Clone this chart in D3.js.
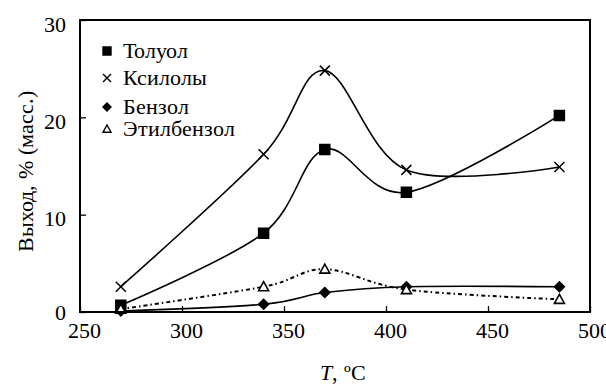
<!DOCTYPE html>
<html>
<head>
<meta charset="utf-8">
<script src="https://cdn.jsdelivr.net/npm/d3@7"></script>
<style>
  @font-face {
    font-family: "ChartSerif";
    src: local("Liberation Serif"), local("LiberationSerif"), local("LiberationSerif-Regular");
    font-style: normal;
    font-display: swap;
  }
  @font-face {
    font-family: "ChartSerif";
    src: local("Liberation Serif Italic"), local("LiberationSerif-Italic");
    font-style: italic;
    font-display: swap;
  }
  body { margin: 0; background: #fff; }
</style>
</head>
<body>
<div class="chart"></div>
<script>
// temperatures and yields (% mass)
var temps = [270, 340, 370, 410, 485];
var toluene = [0.7, 8.1, 16.7, 12.3, 20.2];
var xylenes = [2.6, 16.2, 24.8, 14.6, 14.9];
var benzene = [0.1, 0.8, 2.0, 2.6, 2.6];
var ethylbenzene = [0.3, 2.6, 4.4, 2.3, 1.3];
var seriesNames = ["Толуол", "Ксилолы", "Бензол", "Этилбензол"];
var xTicks = [250, 300, 350, 400, 450, 500];
var yTicks = [0, 10, 20, 30];

var font = "ChartSerif, 'Liberation Serif', 'Times New Roman', serif";
var svgWidth = 606, svgHeight = 385;
var margin = { top: 20, right: 16, bottom: 73, left: 80 };
var width = svgWidth - margin.left - margin.right;
var height = svgHeight - margin.top - margin.bottom;

var svg = d3.select(".chart").append("svg")
    .attr("width", svgWidth)
    .attr("height", svgHeight)
    .style("font-family", font);
var chart = svg.append("g")
    .attr("transform", "translate(" + margin.left + "," + margin.top + ")");

var x = d3.scaleLinear().domain([250, 500]).range([0, width]);
var y = d3.scaleLinear().domain([0, 30]).range([height, 0]);

// marker shapes
function marker(kind, s) {
    var h = s / 2;
    if (kind == "square") return "M" + (-h) + "," + (-h) + "h" + s + "v" + s + "h" + (-s) + "Z";
    if (kind == "x") return "M" + (-h) + "," + (-h) + "L" + h + "," + h + "M" + (-h) + "," + h + "L" + h + "," + (-h);
    if (kind == "diamond") return "M0," + (-h) + "L" + h + ",0L0," + h + "L" + (-h) + ",0Z";
    return "M0," + (-h) + "L" + h + "," + (h * 0.8) + "L" + (-h) + "," + (h * 0.8) + "Z";
}

var series = [
    { name: seriesNames[0], values: toluene, kind: "square", dash: null, size: 10, fill: "#000" },
    { name: seriesNames[1], values: xylenes, kind: "x", dash: null, size: 10, fill: "none" },
    { name: seriesNames[2], values: benzene, kind: "diamond", dash: null, size: 10, fill: "#000" },
    { name: seriesNames[3], values: ethylbenzene, kind: "triangle", dash: "4,3,1.5,3", size: 10, fill: "#fff" }
];

var line = d3.line()
    .x(function(d) { return x(d[0]); })
    .y(function(d) { return y(d[1]); })
    .curve(d3.curveCatmullRom.alpha(0));

series.forEach(function(s) {
    var pts = temps.map(function(t, i) { return [t, s.values[i]]; });
    chart.append("path")
        .attr("d", line(pts))
        .attr("fill", "none")
        .attr("stroke", "#000")
        .attr("stroke-width", s.dash ? 2 : 1.6)
        .attr("stroke-dasharray", s.dash);
});

series.forEach(function(s) {
    chart.selectAll(null)
        .data(temps.map(function(t, i) { return [t, s.values[i]]; }))
        .enter()
        .append("path")
        .attr("transform", function(d) { return "translate(" + x(d[0]) + "," + y(d[1]) + ")"; })
        .attr("d", marker(s.kind, s.size))
        .attr("fill", s.fill)
        .attr("stroke", "#000")
        .attr("stroke-width", s.kind == "triangle" ? 1.6 : 1.5);
});

// axes with inward ticks
var bottomAxis = d3.axisBottom(x).tickValues(xTicks).tickSizeInner(-6).tickSizeOuter(0).tickPadding(14);
var leftAxis = d3.axisLeft(y).tickValues(yTicks).tickSizeInner(-6).tickSizeOuter(0).tickPadding(14);

var gx = chart.append("g").attr("transform", "translate(0," + height + ")").call(bottomAxis);
var gy = chart.append("g").call(leftAxis);
[gx, gy].forEach(function(g) {
    g.attr("font-family", null).attr("font-size", null);
    g.select(".domain").remove();
    g.selectAll("line").attr("stroke", "#000").attr("stroke-width", 1.3);
    g.selectAll("text").style("font-family", font).style("font-size", "22px");
});
gx.selectAll("text").attr("dx", 4).attr("dy", "0.55em");
gy.selectAll("text").attr("dy", function(d) { return d == 0 ? "0.35em" : "0.5em"; });

// frame
chart.append("rect")
    .attr("width", width)
    .attr("height", height)
    .attr("fill", "none")
    .attr("stroke", "#000")
    .attr("stroke-width", 2);

// legend
var legendY = [51, 78, 107, 129];
var legend = svg.append("g");
series.forEach(function(s, i) {
    legend.append("path")
        .attr("transform", "translate(107," + legendY[i] + ")")
        .attr("d", marker(s.kind, 8))
        .attr("fill", s.fill)
        .attr("stroke", "#000")
        .attr("stroke-width", 1.4);
    legend.append("text")
        .attr("x", 123)
        .attr("y", legendY[i] + 7)
        .style("font-family", font)
        .style("font-size", "22px")
        .text(s.name);
});

// axis titles
svg.append("text")
    .attr("transform", "translate(33,171) rotate(-90)")
    .attr("text-anchor", "middle")
    .style("font-family", font)
    .style("font-size", "22px")
    .text("Выход, % (масс.)");

var xt = svg.append("text")
    .attr("x", 343)
    .attr("y", 380)
    .attr("text-anchor", "middle")
    .style("font-family", font)
    .style("font-size", "22px");
xt.append("tspan").style("font-style", "italic").text("T");
xt.append("tspan").text(", ºC");
</script>
</body>
</html>
